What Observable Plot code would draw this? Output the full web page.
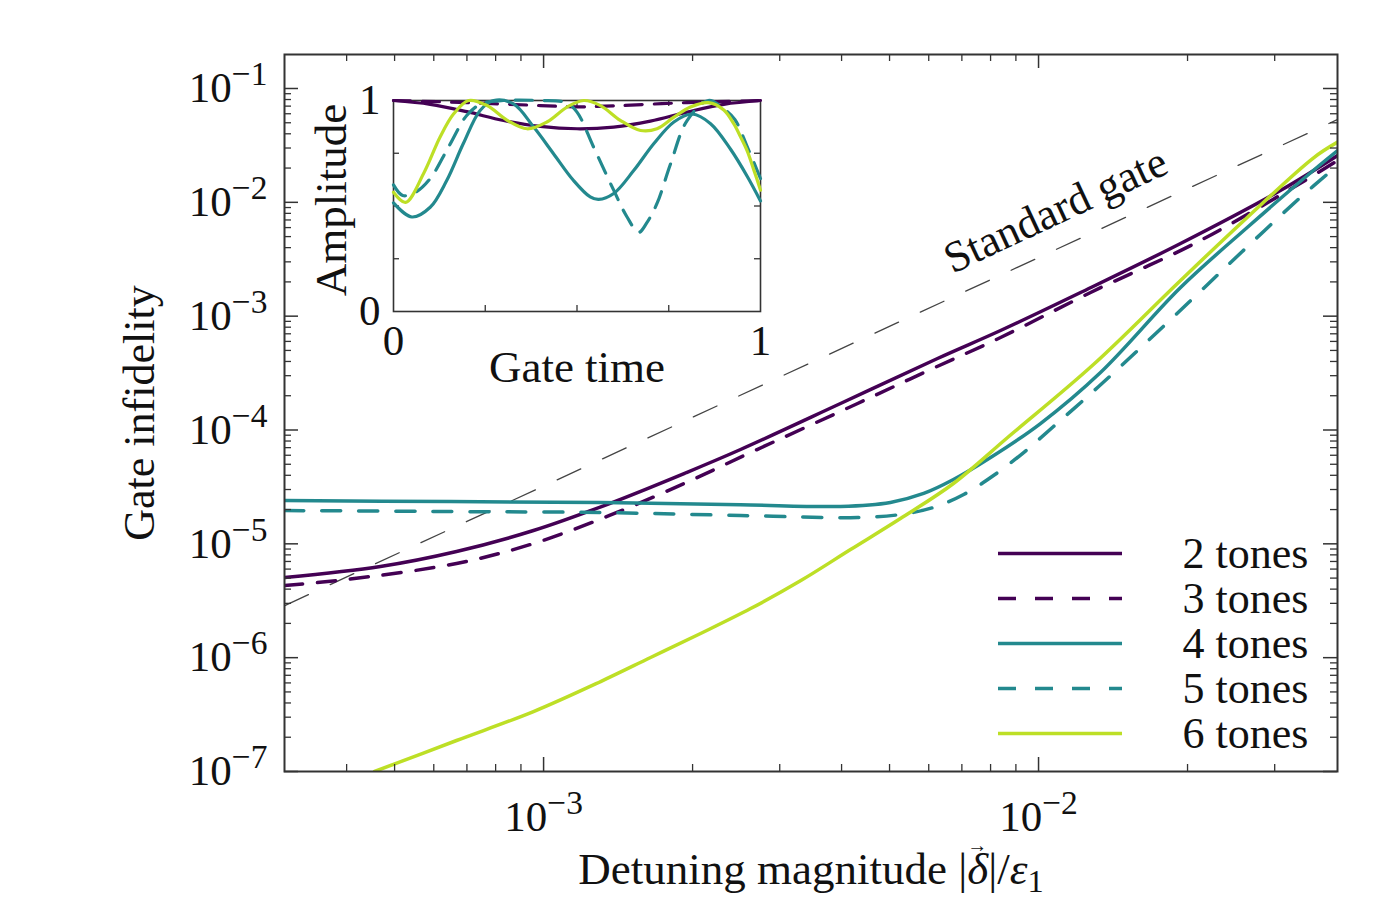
<!DOCTYPE html>
<html>
<head>
<meta charset="utf-8">
<script src="https://cdn.jsdelivr.net/npm/d3@7"></script>
<script src="https://cdn.jsdelivr.net/npm/@observablehq/plot@0.6"></script>
<style>
  html, body { margin: 0; padding: 0; background: #fff; }
  #chart { position: relative; width: 1394px; height: 922px; overflow: hidden; }
  #chart > svg { position: absolute; }
</style>
</head>
<body>
<div id="chart"></div>
<script>
// ---------------- data ----------------
const seriesNames = ["2 tones", "3 tones", "4 tones", "5 tones", "6 tones"];
const seriesColors = ["#440154", "#440154", "#23898e", "#23898e", "#bddf26"];
const seriesDashed = [false, true, false, true, false];

// main panel: gate infidelity vs detuning magnitude
const tones2X = [3.0e-4, 4.68e-4, 6.67e-4, 9.54e-4, 1.359e-3, 1.944e-3, 2.50e-3, 3.98e-3, 6.25e-3, 8.38e-3, 1.216e-2, 1.936e-2, 3.08e-2, 4.02e-2];
const tones2Y = [5.06e-6, 6.32e-6, 8.56e-6, 1.309e-5, 2.26e-5, 4.23e-5, 6.74e-5, 1.709e-4, 4.25e-4, 7.48e-4, 1.614e-3, 4.35e-3, 1.270e-2, 2.58e-2];

const tones3X = [3.0e-4, 3.91e-4, 6.67e-4, 9.54e-4, 1.359e-3, 1.944e-3, 2.62e-3, 4.31e-3, 6.05e-3, 8.38e-3, 1.274e-2, 2.105e-2, 3.27e-2, 4.02e-2];
const tones3Y = [4.30e-6, 4.81e-6, 6.72e-6, 1.006e-5, 1.774e-5, 3.46e-5, 6.34e-5, 1.709e-4, 3.40e-4, 6.49e-4, 1.614e-3, 4.53e-3, 1.350e-2, 2.33e-2];

const tones4X = [3.0e-4, 6.49e-4, 1.304e-3, 2.50e-3, 3.98e-3, 5.02e-3, 5.86e-3, 6.73e-3, 8.00e-3, 1.009e-2, 1.334e-2, 1.936e-2, 2.64e-2, 3.59e-2, 4.02e-2];
const tones4Y = [2.40e-5, 2.35e-5, 2.31e-5, 2.21e-5, 2.13e-5, 2.31e-5, 2.77e-5, 3.67e-5, 5.73e-5, 1.140e-4, 3.20e-4, 1.786e-3, 6.01e-3, 1.904e-2, 2.85e-2];

const tones5X = [3.0e-4, 6.49e-4, 1.304e-3, 2.50e-3, 4.31e-3, 5.26e-3, 6.14e-3, 7.06e-3, 8.11e-3, 9.33e-3, 1.072e-2, 1.256e-2, 1.464e-2, 2.01e-2, 2.58e-2, 3.38e-2, 4.02e-2];
const tones5Y = [1.962e-5, 1.922e-5, 1.884e-5, 1.774e-5, 1.703e-5, 1.810e-5, 2.09e-5, 2.71e-5, 3.98e-5, 6.34e-5, 1.073e-4, 1.969e-4, 3.61e-4, 1.318e-3, 3.70e-3, 1.103e-2, 2.11e-2];

const tones6X = [4.555e-4, 6.67e-4, 9.54e-4, 1.304e-3, 1.645e-3, 2.076e-3, 2.62e-3, 3.31e-3, 4.17e-3, 5.26e-3, 6.73e-3, 8.66e-3, 1.291e-2, 1.936e-2, 2.64e-2, 3.59e-2, 4.02e-2];
const tones6Y = [1.0e-7, 1.872e-7, 3.36e-7, 6.17e-7, 1.003e-6, 1.630e-6, 2.70e-6, 4.76e-6, 8.91e-6, 1.669e-5, 3.39e-5, 8.59e-5, 3.76e-4, 2.06e-3, 7.36e-3, 2.45e-2, 3.38e-2];

const standardX = [3.0e-4, 4.02e-2];
const standardY = [2.87e-6, 5.34e-2];
const standardLabel = {text: "Standard gate", x: 1.113e-2, y: 6.58e-3};

const xDomain = [2.996e-4, 4.018e-2];
const yDomain = [1e-7, 0.1989];
const xMajor = [1e-3, 1e-2];
const xMinor = [4e-4, 5e-4, 6e-4, 7e-4, 8e-4, 9e-4, 2e-3, 3e-3, 4e-3, 5e-3, 6e-3, 7e-3, 8e-3, 9e-3, 2e-2, 3e-2];
const yMajor = [1e-7, 1e-6, 1e-5, 1e-4, 1e-3, 1e-2, 1e-1];
const yMinor = [];
for (let k = -7; k <= -2; k++) for (let m = 2; m <= 9; m++) yMinor.push(m * Math.pow(10, k));

const xTitle = "Detuning magnitude |δ|/ε1";
const yTitle = "Gate infidelity";

// inset: amplitude vs gate time
const inset2T = [0, 0.1, 0.2, 0.3, 0.4, 0.5, 0.6, 0.7, 0.8, 0.9, 1.0];
const inset2A = [1.0, 0.982, 0.947, 0.905, 0.877, 0.866, 0.874, 0.902, 0.945, 0.982, 1.0];
const inset3T = [0, 0.2, 0.4, 0.5, 0.6, 0.8, 1.0];
const inset3A = [1.0, 0.99, 0.976, 0.97, 0.975, 0.99, 1.0];
const inset4T = [0, 0.05, 0.1, 0.145, 0.19, 0.236, 0.273, 0.327, 0.382, 0.436, 0.49, 0.536, 0.559, 0.6, 0.655, 0.709, 0.764, 0.814, 0.864, 0.918, 0.964, 1.0];
const inset4A = [0.515, 0.448, 0.494, 0.621, 0.795, 0.953, 1.0, 0.984, 0.874, 0.748, 0.622, 0.543, 0.531, 0.559, 0.669, 0.795, 0.898, 0.936, 0.89, 0.77, 0.64, 0.524];
const inset5T = [0, 0.025, 0.06, 0.1, 0.15, 0.2, 0.24, 0.3, 0.4, 0.47, 0.5, 0.545, 0.6, 0.636, 0.668, 0.69, 0.718, 0.755, 0.8, 0.858, 0.9, 0.93, 0.964, 1.0];
const inset5A = [0.6, 0.55, 0.565, 0.63, 0.78, 0.93, 0.985, 1.0, 1.0, 0.99, 0.945, 0.78, 0.575, 0.449, 0.375, 0.42, 0.512, 0.70, 0.905, 1.0, 0.96, 0.91, 0.78, 0.63];
const inset6T = [0, 0.033, 0.082, 0.127, 0.164, 0.205, 0.255, 0.31, 0.364, 0.418, 0.473, 0.518, 0.564, 0.618, 0.673, 0.718, 0.764, 0.809, 0.858, 0.9, 0.927, 0.945, 0.964, 0.982, 1.0];
const inset6A = [0.565, 0.517, 0.654, 0.827, 0.937, 1.0, 0.976, 0.906, 0.866, 0.898, 0.969, 1.0, 0.976, 0.906, 0.858, 0.866, 0.921, 0.969, 0.99, 0.955, 0.89, 0.83, 0.76, 0.67, 0.575];
const insetTicks = [0.25, 0.5, 0.75];
const insetLabelTicks = [0, 1];
const insetXTitle = "Gate time";
const insetYTitle = "Amplitude";

// ---------------- helpers ----------------
const rows = (xs, ys) => xs.map((x, i) => ({x, y: ys[i]}));
const mainSeries = seriesNames.map((name, i) => ({
  name, color: seriesColors[i], dashed: seriesDashed[i],
  x: [tones2X, tones3X, tones4X, tones5X, tones6X][i],
  y: [tones2Y, tones3Y, tones4Y, tones5Y, tones6Y][i]
}));
const insetSeries = seriesNames.map((name, i) => ({
  name, color: seriesColors[i], dashed: seriesDashed[i],
  x: [inset2T, inset3T, inset4T, inset5T, inset6T][i],
  y: [inset2A, inset3A, inset4A, inset5A, inset6A][i]
}));
const expLabel = d => `10^${Math.round(Math.log10(d))}`;

const FONT = "'Liberation Serif', 'Times New Roman', serif";
const INK = "#333";
const FS = 43;     // tick labels
const FT = 45;     // titles
const FL = 44;     // legend / annotation
const root = document.getElementById("chart");

// ---------------- main plot ----------------
const W = 1394, H = 922, mL = 284, mR = 57, mT = 54, mB = 151;
const fW = W - mL - mR, fH = H - mT - mB;
const MAJ = 14, MIN = 7;

const main = Plot.plot({
  width: W, height: H,
  marginLeft: mL, marginRight: mR, marginTop: mT, marginBottom: mB,
  style: {fontFamily: FONT, fontSize: FS + "px", color: "#111", background: "transparent", overflow: "visible"},
  x: {type: "log", domain: xDomain},
  y: {type: "log", domain: yDomain},
  marks: [
    Plot.line(rows(standardX, standardY), {x: "x", y: "y", stroke: "#444", strokeWidth: 1.3, strokeDasharray: "26,24", clip: true}),
    ...mainSeries.map(s => Plot.line(rows(s.x, s.y), {
      x: "x", y: "y", stroke: s.color, strokeWidth: 3.5,
      strokeDasharray: s.dashed ? (s.name === "3 tones" ? "18,15" : "19,18") : null,
      curve: "catmull-rom", clip: true
    })),
    Plot.text([standardLabel], {x: "x", y: "y", text: "text", rotate: -25, fontSize: FL, lineAnchor: "bottom", textAnchor: "middle", fill: "#111"}),
    Plot.frame({stroke: INK, strokeWidth: 2}),
    Plot.tickX(xMajor, {x: d => d, insetTop: fH - MAJ, stroke: INK, strokeWidth: 1.5}),
    Plot.tickX(xMajor, {x: d => d, insetBottom: fH - MAJ, stroke: INK, strokeWidth: 1.5}),
    Plot.tickX(xMinor, {x: d => d, insetTop: fH - MIN, stroke: INK, strokeWidth: 1.3}),
    Plot.tickX(xMinor, {x: d => d, insetBottom: fH - MIN, stroke: INK, strokeWidth: 1.3}),
    Plot.tickY(yMajor, {y: d => d, insetRight: fW - MAJ, stroke: INK, strokeWidth: 1.5}),
    Plot.tickY(yMajor, {y: d => d, insetLeft: fW - MAJ, stroke: INK, strokeWidth: 1.5}),
    Plot.tickY(yMinor, {y: d => d, insetRight: fW - MIN, stroke: INK, strokeWidth: 1.3}),
    Plot.tickY(yMinor, {y: d => d, insetLeft: fW - MIN, stroke: INK, strokeWidth: 1.3}),
    Plot.axisX({ticks: xMajor, tickSize: 0, tickPadding: 29, tickFormat: expLabel, fontSize: FS, label: null}),
    Plot.axisY({ticks: yMajor, tickSize: 0, tickPadding: 17, tickFormat: expLabel, fontSize: FS, label: null}),
    Plot.text([xTitle], {text: d => d, frameAnchor: "bottom", dy: 112, lineAnchor: "bottom", textAnchor: "middle", fontSize: FT, fill: "#111"}),
    Plot.text([yTitle], {text: d => d, frameAnchor: "left", dx: -131, rotate: -90, lineAnchor: "bottom", textAnchor: "middle", fontSize: FL, fill: "#111"})
  ]
});
main.style.left = "0px"; main.style.top = "0px";
root.appendChild(main);

// ---------------- inset plot ----------------
const IL = 290, IT = 50, IW = 500, IH = 350;
const iL = 393 - IL, iR = IL + IW - 760, iT = 100 - IT, iB = IT + IH - 311;
const ifW = IW - iL - iR, ifH = IH - iT - iB;
const ITK = 6;

const inset = Plot.plot({
  width: IW, height: IH,
  marginLeft: iL, marginRight: iR, marginTop: iT, marginBottom: iB,
  style: {fontFamily: FONT, fontSize: FS + "px", color: "#111", background: "transparent", overflow: "visible"},
  x: {domain: [0, 1]},
  y: {domain: [0, 1]},
  marks: [
    Plot.frame({stroke: INK, strokeWidth: 1.6}),
    Plot.tickX(insetTicks, {x: d => d, insetTop: ifH - ITK, stroke: INK, strokeWidth: 1.3}),
    Plot.tickX(insetTicks, {x: d => d, insetBottom: ifH - ITK, stroke: INK, strokeWidth: 1.3}),
    Plot.tickY(insetTicks, {y: d => d, insetRight: ifW - ITK, stroke: INK, strokeWidth: 1.3}),
    Plot.tickY(insetTicks, {y: d => d, insetLeft: ifW - ITK, stroke: INK, strokeWidth: 1.3}),
    ...insetSeries.map(s => Plot.line(rows(s.x, s.y), {
      x: "x", y: "y", stroke: s.color, strokeWidth: 3.2,
      strokeDasharray: s.dashed ? "17,12" : null, curve: "catmull-rom"
    })),
    Plot.axisX({ticks: insetLabelTicks, tickSize: 0, tickPadding: 13, fontSize: FS, label: null, tickFormat: d => String(d)}),
    Plot.axisY({ticks: insetLabelTicks, tickSize: 0, tickPadding: 13, fontSize: FS, label: null, tickFormat: d => String(d)}),
    Plot.text([insetXTitle], {text: d => d, frameAnchor: "bottom", dy: 70, lineAnchor: "bottom", textAnchor: "middle", fontSize: FT, fill: "#111"}),
    Plot.text([insetYTitle], {text: d => d, frameAnchor: "left", dx: -48, dy: -6, rotate: -90, lineAnchor: "bottom", textAnchor: "middle", fontSize: FT, fill: "#111"})
  ]
});
inset.style.left = IL + "px"; inset.style.top = IT + "px";
root.appendChild(inset);

// ---------------- legend ----------------
const LL = 980, LT = 520, LW = 360, LH = 240;
const legend = Plot.plot({
  width: LW, height: LH, margin: 0,
  style: {fontFamily: FONT, fontSize: FL + "px", color: "#111", background: "transparent", overflow: "visible"},
  y: {type: "point", domain: seriesNames, range: [33, 213], padding: 0, axis: null},
  marks: [
    ...mainSeries.map(s => Plot.ruleY([s.name], {
      y: d => d, stroke: s.color, strokeWidth: 3.5,
      strokeDasharray: s.dashed ? "18,19" : null,
      insetLeft: 998 - LL, insetRight: LW - (1122 - LL)
    })),
    Plot.text(seriesNames, {y: d => d, text: d => d, frameAnchor: "left", dx: 1182 - LL, textAnchor: "start", fontSize: FL, fill: "#111"})
  ]
});
legend.style.left = LL + "px"; legend.style.top = LT + "px";
root.appendChild(legend);

// ---------------- typographic post-processing ----------------
d3.select(main).selectAll("text").each(function () {
  const t = this.textContent;
  const m = t.match(/^10\^(-?\d+)$/);
  if (m) {
    const el = d3.select(this);
    el.text(null);
    el.append("tspan").text("10");
    el.append("tspan").attr("dy", -17).style("font-size", "0.78em").text(m[1].replace("-", "\u2212"));
  } else if (t === xTitle) {
    const el = d3.select(this);
    el.text(null);
    el.append("tspan").text("Detuning magnitude |");
    el.append("tspan").style("font-style", "italic").text("δ");
    el.append("tspan").attr("dx", -21).attr("dy", -32).style("font-size", "20px").text("→");
    el.append("tspan").attr("dx", 1).attr("dy", 32).text("|/");
    el.append("tspan").style("font-style", "italic").text("ε");
    el.append("tspan").attr("dy", 8).style("font-size", "0.72em").text("1");
  }
});
</script>
</body>
</html>
